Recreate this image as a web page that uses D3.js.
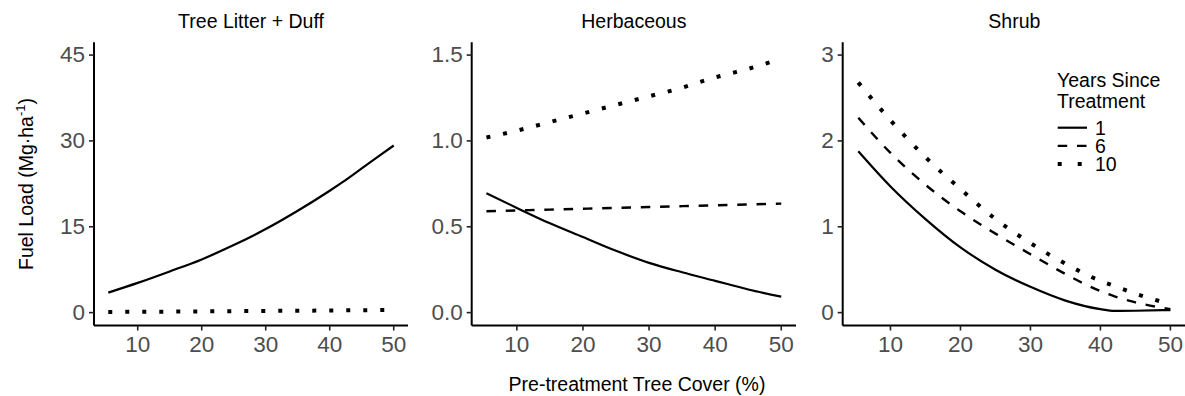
<!DOCTYPE html>
<html>
<head>
<meta charset="utf-8">
<script src="https://cdn.jsdelivr.net/npm/d3@7"></script>
<style>
  html, body { margin: 0; padding: 0; background: #fff; }
  svg { display: block; font-family: "Liberation Sans", Arial, sans-serif; }
</style>
</head>
<body>
<svg id="chart" width="1185" height="396"></svg>
<script>
// ---- data ----
const cover = [5.4, 10, 15, 20, 25, 30, 35, 40, 42, 45, 50];

const panelTitles = ["Tree Litter + Duff", "Herbaceous", "Shrub"];

const litter1  = [3.5, 5.2, 7.2, 9.3, 11.8, 14.6, 17.8, 21.3, 22.8, 25.2, 29.2];
const litter10 = [0.12, 0.15, 0.18, 0.21, 0.25, 0.29, 0.33, 0.37, 0.39, 0.41, 0.46];

const herb1  = [0.695, 0.61, 0.52, 0.44, 0.36, 0.29, 0.235, 0.185, 0.165, 0.135, 0.093];
const herb6  = [0.59, 0.595, 0.60, 0.605, 0.61, 0.615, 0.62, 0.625, 0.627, 0.63, 0.635];
const herb10 = [1.02, 1.06, 1.11, 1.16, 1.21, 1.26, 1.31, 1.37, 1.39, 1.42, 1.48];

const shrub1  = [1.88, 1.47, 1.09, 0.76, 0.50, 0.30, 0.14, 0.04, 0.02, 0.022, 0.03];
const shrub6  = [2.27, 1.86, 1.49, 1.18, 0.92, 0.68, 0.45, 0.25, 0.19, 0.12, 0.04];
const shrub10 = [2.68, 2.24, 1.81, 1.44, 1.09, 0.81, 0.57, 0.37, 0.31, 0.22, 0.10];

const xTicks = [10, 20, 30, 40, 50];
const yTicksLitter = [0, 15, 30, 45];
const yTicksHerb = [0, 0.5, 1.0, 1.5];
const yTicksShrub = [0, 1, 2, 3];

const legendTitle = ["Years Since", "Treatment"];
const years = ["1", "6", "10"];

// ---- layout ----
const svg = d3.select("#chart");
const yRange = [325.5, 42.2];
const xDomain = [3.17, 52.23];
const panelX = [[94, 408], [471.7, 796], [842.7, 1186]];
const styles = {
  "1":  { width: 2.2, dash: null },
  "6":  { width: 2.4, dash: "9.5,9.8" },
  "10": { width: 4,   dash: "4,13" }
};

const panels = [
  { title: panelTitles[0], ticks: yTicksLitter, fmt: d3.format("d"), series: [["1", litter1], ["10", litter10]] },
  { title: panelTitles[1], ticks: yTicksHerb, fmt: d3.format(".1f"), series: [["1", herb1], ["6", herb6], ["10", herb10]] },
  { title: panelTitles[2], ticks: yTicksShrub, fmt: d3.format("d"), series: [["1", shrub1], ["6", shrub6], ["10", shrub10]] }
];

panels.forEach((p, i) => {
  const top = p.ticks[p.ticks.length - 1];
  const x = d3.scaleLinear().domain(xDomain).range(panelX[i]);
  const y = d3.scaleLinear().domain([-0.05 * top, 1.05 * top]).range(yRange);
  const g = svg.append("g");

  const line = d3.line().x((d, j) => x(cover[j])).y(d => y(d)).curve(d3.curveMonotoneX);
  p.series.forEach(([yr, vals]) => {
    const st = styles[yr];
    g.append("path")
      .datum(vals)
      .attr("d", line)
      .attr("fill", "none")
      .attr("stroke", "#000")
      .attr("stroke-width", st.width)
      .attr("stroke-linecap", "butt")
      .attr("stroke-dasharray", st.dash);
  });

  const xa = g.append("g").attr("transform", `translate(0,${yRange[0]})`)
    .call(d3.axisBottom(x).tickValues(xTicks).tickSize(5).tickSizeOuter(0).tickPadding(6).offset(0));
  const ya = g.append("g").attr("transform", `translate(${panelX[i][0]},0)`)
    .call(d3.axisLeft(y).tickValues(p.ticks).tickFormat(p.fmt).tickSize(5).tickSizeOuter(0).tickPadding(4).offset(0));
  [xa, ya].forEach(a => {
    a.select(".domain").attr("stroke", "#000").attr("stroke-width", 2);
    a.selectAll(".tick line").attr("stroke", "#222").attr("stroke-width", 1.6);
    a.selectAll(".tick text").attr("fill", "#4d4d4d").attr("font-size", 22.5)
      .attr("font-family", "Liberation Sans, Arial, sans-serif");
  });

  svg.append("text")
    .attr("x", (panelX[i][0] + panelX[i][1]) / 2)
    .attr("y", 28)
    .attr("text-anchor", "middle")
    .attr("font-size", 19.5)
    .attr("fill", "#000")
    .text(p.title);
});

// axis titles
svg.append("text")
  .attr("x", 637).attr("y", 391)
  .attr("text-anchor", "middle")
  .attr("font-size", 19.5)
  .text("Pre-treatment Tree Cover (%)");

const yt = svg.append("text")
  .attr("transform", "translate(33,184) rotate(-90)")
  .attr("text-anchor", "middle")
  .attr("font-size", 19.5);
yt.append("tspan").text("Fuel Load (Mg\u00B7ha");
yt.append("tspan").attr("font-size", 13).attr("dy", -8).text("-1");
yt.append("tspan").attr("dy", 8).text(")");

// legend
const lg = svg.append("g");
legendTitle.forEach((t, k) => {
  lg.append("text").attr("x", 1057).attr("y", 87 + k * 21)
    .attr("font-size", 19.5).text(t);
});
years.forEach((yr, k) => {
  const yy = 127.7 + k * 18.2;
  const st = styles[yr];
  lg.append("line")
    .attr("x1", 1057.7).attr("x2", 1087).attr("y1", yy).attr("y2", yy)
    .attr("stroke", "#000").attr("stroke-width", st.width)
    .attr("stroke-dasharray", yr === "10" ? "4,16" : st.dash);
  lg.append("text").attr("x", 1095).attr("y", yy).attr("dy", "0.36em")
    .attr("font-size", 19.5).text(yr);
});
</script>
</body>
</html>
